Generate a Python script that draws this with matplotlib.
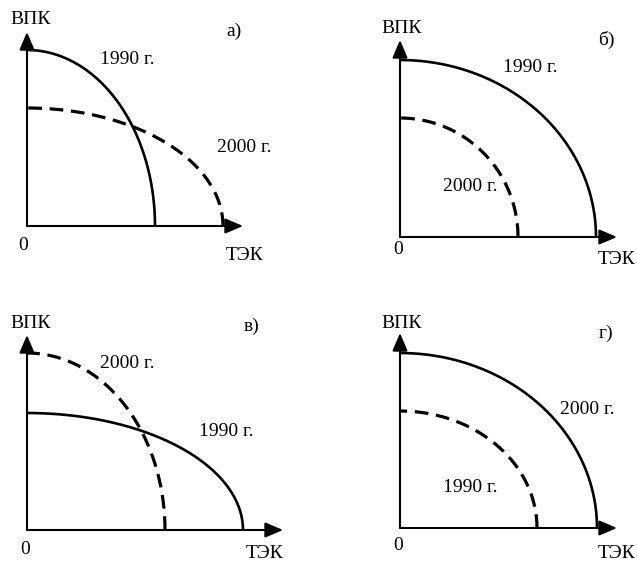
import numpy as np
import matplotlib
matplotlib.use("Agg")
import matplotlib.pyplot as plt

plt.rcParams['font.family'] = ['Liberation Serif', 'DejaVu Serif']

W, H = 637, 563
S = 20.0  # pixels per unit

# Panel data (units)
panel_labels = ["а)", "б)", "в)", "г)"]
origins_px = [(27, 226), (400, 237), (27, 530), (400, 528)]
x_axis_len = [10.8, 10.85, 12.8, 10.85]
y_axis_len = [9.7, 9.85, 9.75, 9.75]
# solid curve intercepts (x, y)
solid_x = [6.4, 9.8, 10.8, 9.85]
solid_y = [8.8, 8.85, 5.85, 8.75]
solid_year = ["1990 г.", "1990 г.", "1990 г.", "2000 г."]
# dashed curve intercepts
dash_x = [9.8, 5.9, 6.9, 6.85]
dash_y = [5.9, 5.95, 8.85, 5.85]
dash_year = ["2000 г.", "2000 г.", "2000 г.", "1990 г."]

# label positions in pixels (image coords) -> converted to units per panel
solid_lbl_px = [(127, 60), (530, 68), (226, 432), (587, 410)]
dash_lbl_px = [(244, 148), (470, 187), (127, 363), (470, 488)]
panel_lbl_px = [(234, 31), (606, 40), (252, 326), (606, 333)]
vpk_px = [(31, 19), (402, 29), (31, 324), (402, 323)]
zero_px = [(23, 245), (398, 250), (25, 549), (398, 546)]
tek_px = [(245, 256), (617, 260), (265, 553), (617, 553)]

fig = plt.figure(figsize=(W / 100, H / 100), dpi=100)
fs = 14

for i in range(4):
    ox, oy = origins_px[i]
    ax = fig.add_axes([0, 0, 1, 1])
    ax.set_xlim(-ox / S, (W - ox) / S)
    ax.set_ylim(-(H - oy) / S, oy / S)
    ax.axis('off')
    ax.patch.set_alpha(0)

    def u(p):
        return ((p[0] - ox) / S, (oy - p[1]) / S)

    # axes with arrows
    style = '-|>,head_length=0.54,head_width=0.23'
    ax.annotate('', xy=(x_axis_len[i], 0), xytext=(0, 0),
                arrowprops=dict(arrowstyle=style, lw=1.5, color='k',
                                shrinkA=0, shrinkB=0, mutation_scale=20))
    ax.annotate('', xy=(0, y_axis_len[i]), xytext=(0, 0),
                arrowprops=dict(arrowstyle=style, lw=1.5, color='k',
                                shrinkA=0, shrinkB=0, mutation_scale=20))

    t = np.linspace(0, np.pi / 2, 300)
    ax.plot(solid_x[i] * np.cos(t), solid_y[i] * np.sin(t), color='k', lw=1.9,
            solid_capstyle='butt')
    ax.plot(dash_x[i] * np.cos(t), dash_y[i] * np.sin(t), color='k', lw=2.3,
            dashes=(4.3, 2.4))

    for txt, p in [(solid_year[i], solid_lbl_px[i]), (dash_year[i], dash_lbl_px[i]),
                   (panel_labels[i], panel_lbl_px[i]), ("ВПК", vpk_px[i]),
                   ("0", zero_px[i]), ("ТЭК", tek_px[i])]:
        x, y = u(p)
        ax.text(x, y, txt, fontsize=fs, ha='center', va='center')

fig.savefig("out.png", dpi=100)
